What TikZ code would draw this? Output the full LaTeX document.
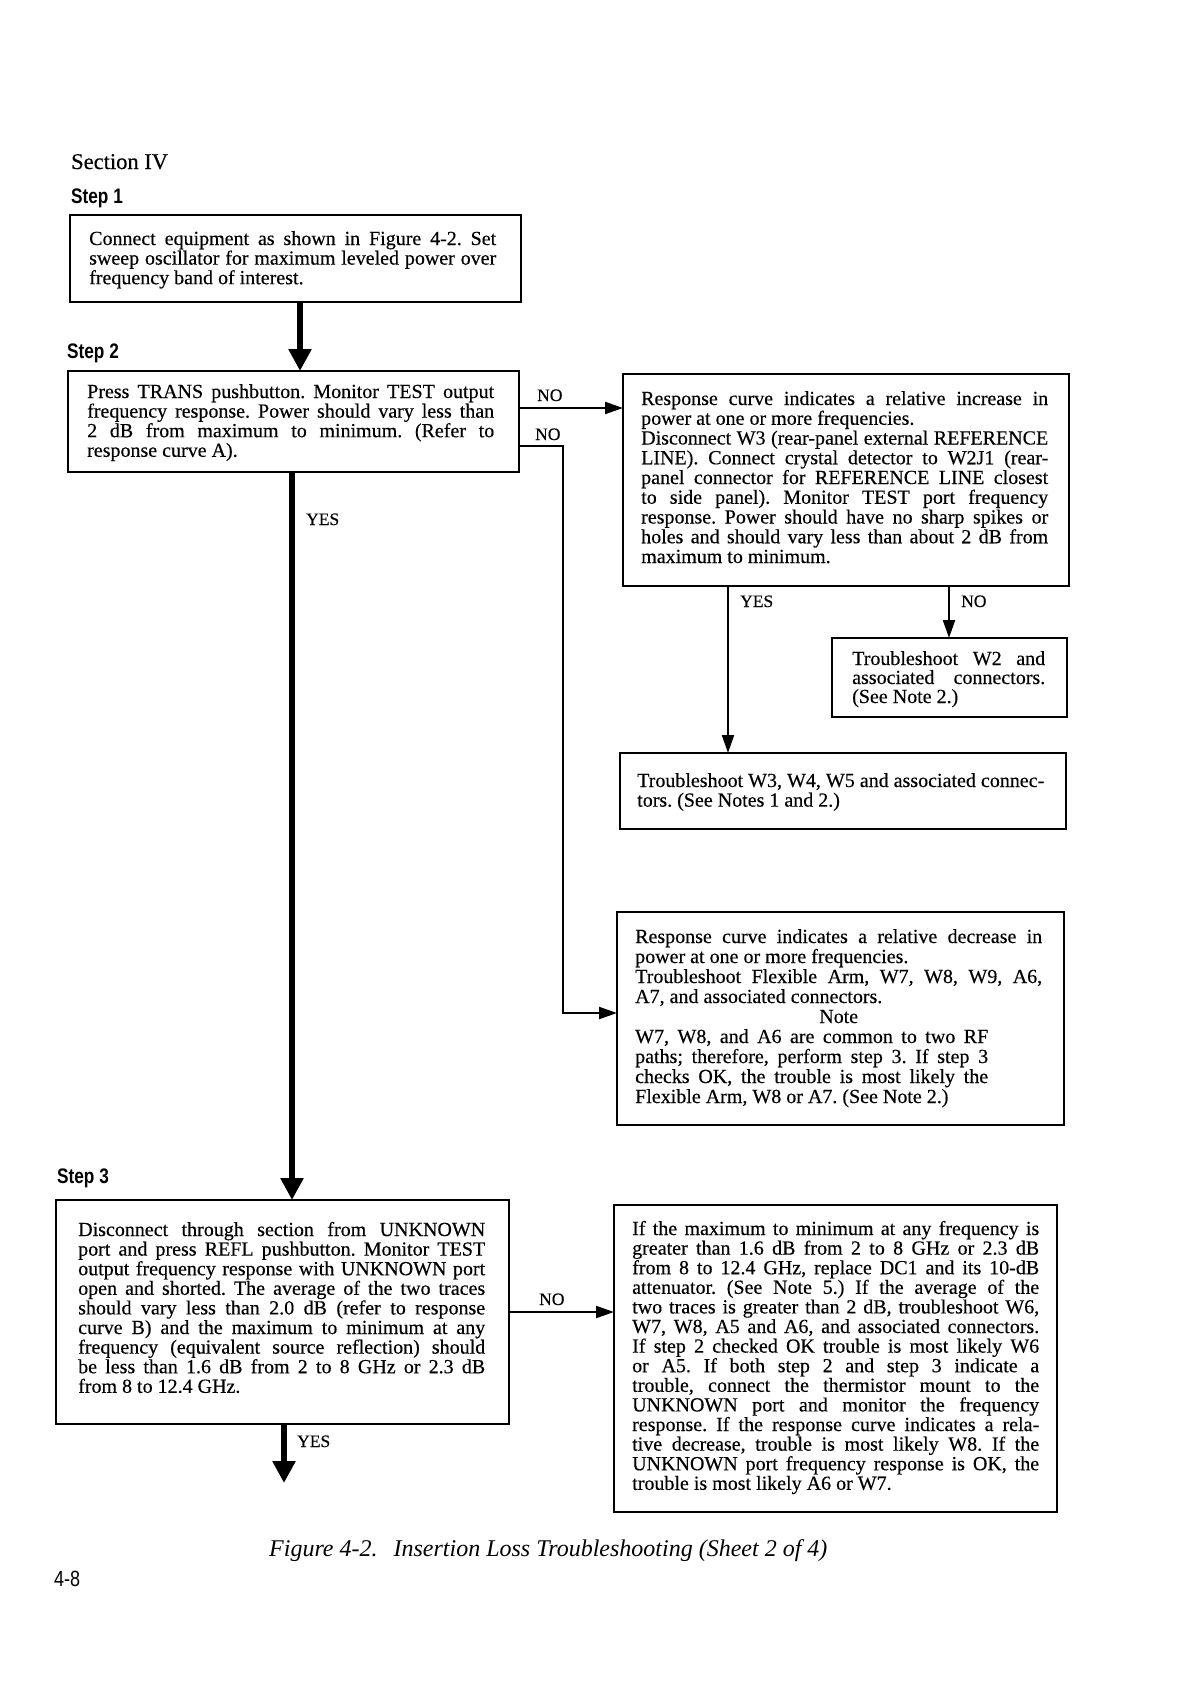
\documentclass[tikz,border=0pt]{standalone}
\usepackage{fontspec}
\setmainfont{Liberation Serif}[UprightFeatures={FakeBold=0.35}]
\newfontfamily\stepfont[FakeStretch=0.82]{Liberation Sans}
\usetikzlibrary{arrows.meta}
\frenchspacing
\newcommand\JW[2]{\hbox to #1{\spaceskip=5pt plus 30pt minus 1.6pt\xspaceskip=\spaceskip #2}}
\newcommand\JL[1]{\JW{407pt}{#1}}
\newcommand\LL[1]{\hbox{\spaceskip=5pt\xspaceskip=\spaceskip #1}}
\begin{document}
\begin{tikzpicture}[x=1pt,y=-1pt,
  box/.style={draw, line width=2.6pt, rectangle, inner sep=0pt, outer sep=0pt, anchor=north west},
  txt/.style={inner sep=0pt, anchor=base west, text width=407pt, font=\fontsize{20}{19.6}\selectfont},
  lbl/.style={inner sep=0pt, anchor=base west, font=\fontsize{17.5}{20}\selectfont},
  steplbl/.style={inner sep=0pt, anchor=base west, font=\stepfont\bfseries\fontsize{21}{24}\selectfont},
  thickarrow/.style={line width=6.5pt, -{Triangle[width=22pt,length=22pt]}},
  thinarrow/.style={line width=2.2pt, -{Triangle[width=12pt,length=18pt]}}
]
\fill[white] (0,0) rectangle (1196,1689);
\useasboundingbox (0,0) rectangle (1196,1689);

% headings
\node[inner sep=0pt, anchor=base west, font=\fontsize{22.5}{24}\selectfont] (sec) at (71,169) {Section IV};
\node[steplbl] (s1) at (71,203) {Step 1};
\node[steplbl] (s2) at (67,358) {Step 2};
\node[steplbl] (s3) at (57,1183) {Step 3};

% boxes
\node[box, minimum width=451pt, minimum height=87pt] (b1) at (70,215) {};
\node[box, minimum width=451pt, minimum height=101pt] (b2) at (68,371) {};
\node[box, minimum width=446pt, minimum height=212pt] (b3) at (623,374) {};
\node[box, minimum width=235pt, minimum height=79pt] (b4) at (832,638) {};
\node[box, minimum width=446pt, minimum height=76pt] (b5) at (620,753) {};
\node[box, minimum width=447pt, minimum height=213pt] (b6) at (617,912) {};
\node[box, minimum width=453pt, minimum height=224pt] (b7) at (56,1200) {};
\node[box, minimum width=443pt, minimum height=307pt] (b8) at (614,1205) {};

% texts
\node[txt] (t1) at (89,245) {%
\JL{Connect equipment as shown in Figure 4-2. Set}
\JL{sweep oscillator for maximum leveled power over}
\LL{frequency band of interest.}};

\node[txt] (t2) at (87,398) {%
\JL{Press TRANS pushbutton. Monitor TEST output}
\JL{frequency response. Power should vary less than}
\JL{2 dB from maximum to minimum. (Refer to}
\LL{response curve A).}};

\node[txt, font=\fontsize{20}{19.75}\selectfont] (t3) at (641,405) {%
\JL{Response curve indicates a relative increase in}
\LL{power at one or more frequencies.}
\JL{Disconnect W3 (rear-panel external REFERENCE}
\JL{LINE). Connect crystal detector to W2J1 (rear-}
\JL{panel connector for REFERENCE LINE closest}
\JL{to side panel). Monitor TEST port frequency}
\JL{response. Power should have no sharp spikes or}
\JL{holes and should vary less than about 2 dB from}
\LL{maximum to minimum.}};

\node[txt, text width=193pt, font=\fontsize{20}{19}\selectfont] (t4) at (852,665) {%
\JW{193pt}{Troubleshoot W2 and}
\JW{193pt}{associated connectors.}
\LL{(See Note 2.)}};

\node[txt] (t5) at (637,787) {%
\JL{Troubleshoot W3, W4, W5 and associated connec-}
\LL{tors. (See Notes 1 and 2.)}};

\node[txt, font=\fontsize{20}{20}\selectfont] (t6) at (635,943) {%
\JL{Response curve indicates a relative decrease in}
\LL{power at one or more frequencies.}
\JL{Troubleshoot Flexible Arm, W7, W8, W9, A6,}
\LL{A7, and associated connectors.}
\JL{\hfil Note\hfil}
\JW{353pt}{W7, W8, and A6 are common to two RF}
\JW{353pt}{paths; therefore, perform step 3. If step 3}
\JW{353pt}{checks OK, the trouble is most likely the}
\LL{Flexible Arm, W8 or A7. (See Note 2.)}};

\node[txt] (t7) at (78,1236) {%
\JL{Disconnect through section from UNKNOWN}
\JL{port and press REFL pushbutton. Monitor TEST}
\JL{output frequency response with UNKNOWN port}
\JL{open and shorted. The average of the two traces}
\JL{should vary less than 2.0 dB (refer to response}
\JL{curve B) and the maximum to minimum at any}
\JL{frequency (equivalent source reflection) should}
\JL{be less than 1.6 dB from 2 to 8 GHz or 2.3 dB}
\LL{from 8 to 12.4 GHz.}};

\node[txt] (t8) at (632,1235) {%
\JL{If the maximum to minimum at any frequency is}
\JL{greater than 1.6 dB from 2 to 8 GHz or 2.3 dB}
\JL{from 8 to 12.4 GHz, replace DC1 and its 10-dB}
\JL{attenuator. (See Note 5.) If the average of the}
\JL{two traces is greater than 2 dB, troubleshoot W6,}
\JL{W7, W8, A5 and A6, and associated connectors.}
\JL{If step 2 checked OK trouble is most likely W6}
\JL{or A5. If both step 2 and step 3 indicate a}
\JL{trouble, connect the thermistor mount to the}
\JL{UNKNOWN port and monitor the frequency}
\JL{response. If the response curve indicates a rela-}
\JL{tive decrease, trouble is most likely W8. If the}
\JL{UNKNOWN port frequency response is OK, the}
\LL{trouble is most likely A6 or W7.}};

% helper coordinates
\coordinate (xa) at (300,0);
\coordinate (ya) at (0,408);
\coordinate (yb) at (0,446);
\coordinate (xb) at (563,0);
\coordinate (yc) at (0,1013);
\coordinate (xc) at (292,0);
\coordinate (xd) at (728,0);
\coordinate (xe) at (949,0);
\coordinate (yd) at (0,1312);
\coordinate (xf) at (284,0);
\coordinate (endp) at (284,1483);

% connectors
\draw[thickarrow] (b1.south -| xa) -- (b2.north -| xa);
\draw[thinarrow] (b2.east |- ya) -- (b3.west |- ya);
\draw[thinarrow] (b2.east |- yb) -| (xb |- yc) -- (b6.west |- yc);
\draw[thickarrow] (b2.south -| xc) -- (b7.north -| xc);
\draw[thinarrow] (b3.south -| xd) -- (b5.north -| xd);
\draw[thinarrow] (b3.south -| xe) -- (b4.north -| xe);
\draw[thinarrow] (b7.east |- yd) -- (b8.west |- yd);
\draw[thickarrow] (b7.south -| xf) -- (endp);

% labels
\node[lbl] (no1) at (537,401) {NO};
\node[lbl] (no2) at (535,440) {NO};
\node[lbl] (yes1) at (306,525) {YES};
\node[lbl] (yes2) at (740,607) {YES};
\node[lbl] (no3) at (961,607) {NO};
\node[lbl] (no4) at (539,1305) {NO};
\node[lbl] (yes3) at (297,1447) {YES};

% caption and page number
\node[inner sep=0pt, anchor=base west, font=\fontsize{24}{26}\selectfont\itshape] (cap) at (269,1556) {Figure 4-2.\hspace{16pt}Insertion Loss Troubleshooting (Sheet 2 of 4)};
\node[inner sep=0pt, anchor=base west, font=\stepfont\fontsize{22}{24}\selectfont] (pg) at (54,1586) {4-8};
\end{tikzpicture}
\end{document}
